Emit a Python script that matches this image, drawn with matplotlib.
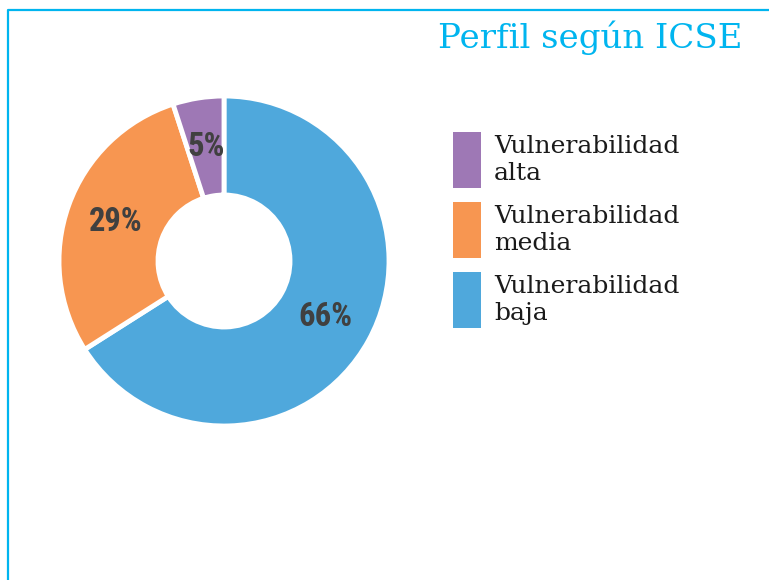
import numpy as np
import matplotlib
matplotlib.use("Agg")
import matplotlib.pyplot as plt
from matplotlib.lines import Line2D
from matplotlib.patches import Rectangle

# data
labels = ["Vulnerabilidad\nbaja", "Vulnerabilidad\nmedia", "Vulnerabilidad\nalta"]
values = [66, 29, 5]
colors = ["#4FA8DC", "#F79651", "#9E78B5"]
title = "Perfil según ICSE"

W, H = 769, 580
fig = plt.figure(figsize=(W / 100, H / 100), dpi=100)

# donut, centre (224, 261) px, radius ~165 px
r_px = 165
ax = fig.add_axes([(224 - r_px) / W, 1 - (261 + r_px) / H, 2 * r_px / W, 2 * r_px / H])
wedges, texts, autotexts = ax.pie(
    values, colors=colors, startangle=90, counterclock=False, radius=1,
    autopct=lambda p: f"{p:.0f}%", pctdistance=0.70,
    wedgeprops=dict(width=0.6, edgecolor="white", linewidth=3.5),
    textprops=dict(color="#404040", fontsize=23.5, fontweight="bold",
                   family=["Roboto Condensed", "Roboto", "DejaVu Sans"]),
)
ax.set_xlim(-1, 1)
ax.set_ylim(-1, 1)
ax.set_aspect("equal")
ax.axis("off")

# legend drawn by hand, reversed order like the original
for i, (lab, col) in enumerate(zip(labels[::-1], colors[::-1])):
    top = 132 + i * 70
    fig.add_artist(Rectangle((453 / W, 1 - (top + 56) / H), 28 / W, 56 / H,
                             facecolor=col, edgecolor="none",
                             transform=fig.transFigure))
    fig.text(494 / W, 1 - (top + 28) / H, lab, ha="left", va="center",
             fontsize=18, family="DejaVu Serif", color="#1a1a1a",
             linespacing=1.2)

# title
fig.text(742 / W, 1 - 38 / H, title, ha="right", va="center", color="#00B5EF",
         fontsize=24.5, family="DejaVu Serif")

# cyan frame (left and top)
fig.add_artist(Line2D([8 / W, 8 / W, 1], [0, 1 - 10 / H, 1 - 10 / H],
                      color="#00B5EF", linewidth=1.6, transform=fig.transFigure))

fig.savefig("out.png", dpi=100)
